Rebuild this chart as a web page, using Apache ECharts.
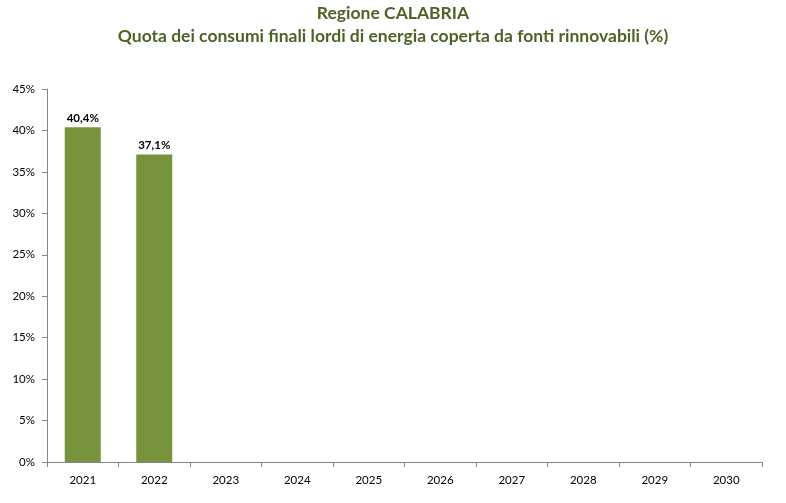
<!DOCTYPE html>
<html><head><meta charset="utf-8">
<script src="https://cdn.jsdelivr.net/npm/echarts@6/dist/echarts.min.js"></script>
<style>html,body{margin:0;padding:0;background:#fff}#c{width:786px;height:503px}</style>
</head><body><div id="c"></div>
<script>
var titleLine1 = 'Regione CALABRIA';
var titleLine2 = 'Quota dei consumi finali lordi di energia coperta da fonti rinnovabili (%)';
var categories = ['2021','2022','2023','2024','2025','2026','2027','2028','2029','2030'];
var values = [40.4, 37.1, null, null, null, null, null, null, null, null];
var yTicks = [0,5,10,15,20,25,30,35,40,45];

var chart = echarts.init(document.getElementById('c'), null, {renderer:'canvas'});
chart.setOption({
  animation:false,
  backgroundColor:'#ffffff',
  title:{
    text: titleLine1 + '\n' + titleLine2,
    left:'center', top:2, padding:0,
    textStyle:{fontFamily:'Lato', fontWeight:'bold', fontSize:17.5, color:'#4F6228', lineHeight:23}
  },
  grid:{left:47, right:24, top:89, bottom:41, containLabel:false},
  xAxis:{
    type:'category', data:categories, boundaryGap:true,
    axisLine:{lineStyle:{color:'#868686', width:1}},
    axisTick:{show:true, alignWithLabel:false, length:5, lineStyle:{color:'#868686'}},
    axisLabel:{fontFamily:'Lato', fontSize:11.5, color:'#000', margin:12}
  },
  yAxis:{
    type:'value', min:yTicks[0], max:yTicks[yTicks.length-1], interval:5,
    splitLine:{show:false},
    axisLine:{show:true, lineStyle:{color:'#868686', width:1}},
    axisTick:{show:true, length:5, lineStyle:{color:'#868686'}},
    axisLabel:{fontFamily:'Lato', fontSize:11.5, color:'#000', margin:12, formatter:function(v){return v+'%';}}
  },
  series:[{
    type:'bar', data:values, barWidth:36,
    itemStyle:{color:'#77933C'},
    label:{show:true, position:'top', distance:3, fontFamily:'Lato', fontWeight:'bold', fontSize:11.5, color:'#000',
      formatter:function(p){return p.value==null?'':p.value.toFixed(1).replace('.',',')+'%';}}
  }]
});
</script></body></html>
